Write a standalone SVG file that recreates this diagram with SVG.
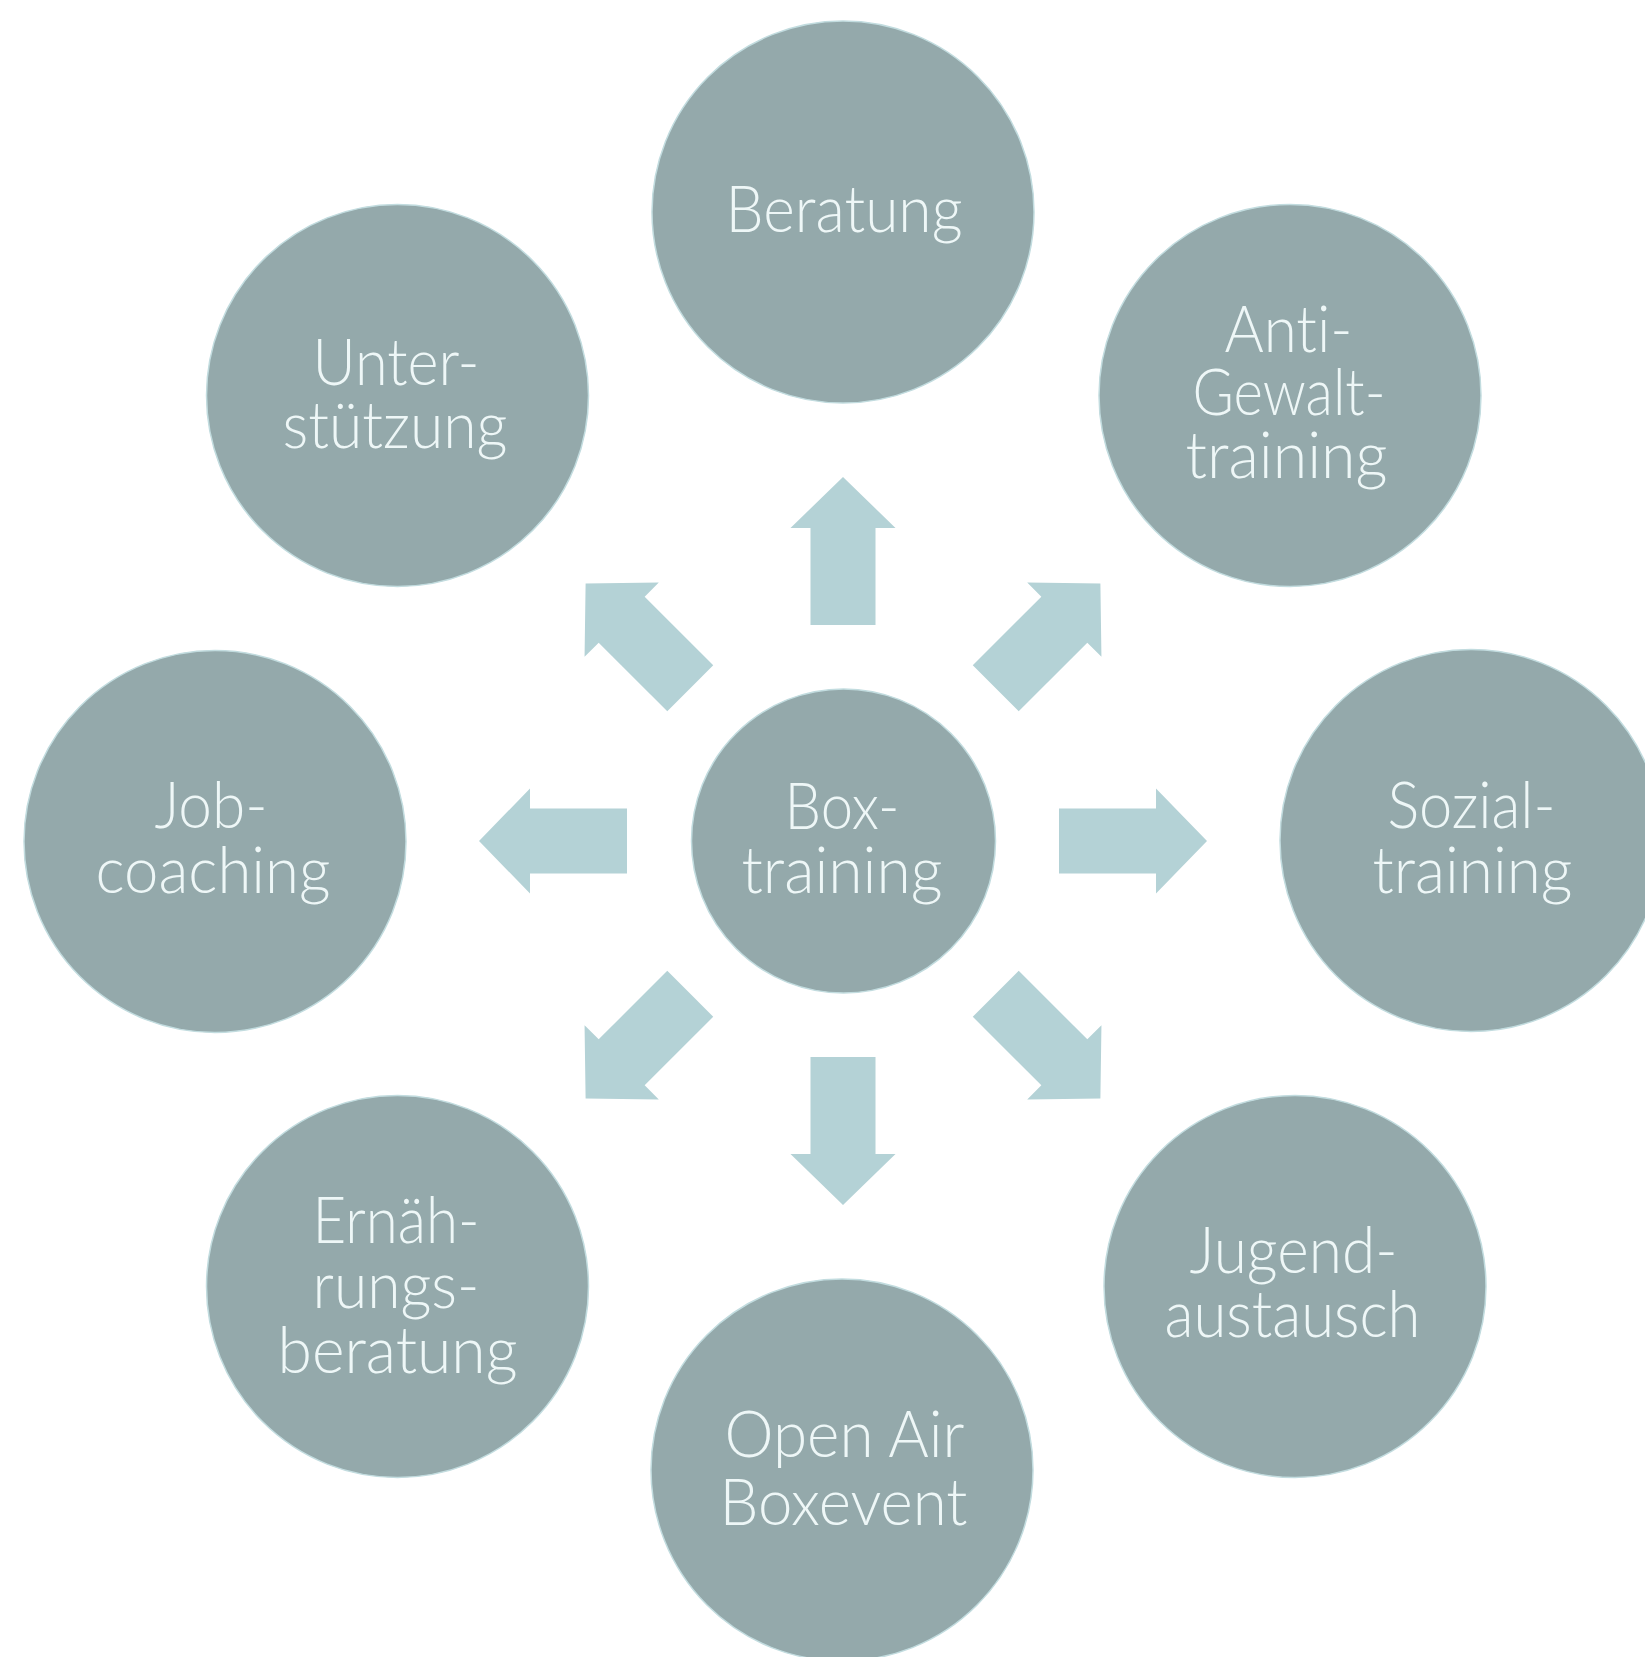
<svg xmlns="http://www.w3.org/2000/svg" xmlns:xlink="http://www.w3.org/1999/xlink" width="1645" height="1657" viewBox="0 0 1645 1657">
<style>
.node{fill:#94a9ab;stroke:#c2dcdf;stroke-width:1.5}
.lbl{font-family:Lato,Roboto,"Liberation Sans",sans-serif;font-weight:300;font-size:66px;fill:#eef7f7;text-anchor:middle;font-variant-ligatures:none;font-feature-settings:"liga" 0,"clig" 0}
.arrow{fill:#b4d2d6}
</style>
<defs>
<path id="arr" d="M0,-364 L52.5,-313 L32.5,-313 L32.5,-216 L-32.5,-216 L-32.5,-313 L-52.5,-313 Z"/>
</defs>
<rect width="1645" height="1657" fill="#ffffff"/>
<g id="connectors" class="arrow">
<use xlink:href="#arr" transform="translate(843 841) rotate(0)"/>
<use xlink:href="#arr" transform="translate(843 841) rotate(45)"/>
<use xlink:href="#arr" transform="translate(843 841) rotate(90)"/>
<use xlink:href="#arr" transform="translate(843 841) rotate(135)"/>
<use xlink:href="#arr" transform="translate(843 841) rotate(180)"/>
<use xlink:href="#arr" transform="translate(843 841) rotate(225)"/>
<use xlink:href="#arr" transform="translate(843 841) rotate(270)"/>
<use xlink:href="#arr" transform="translate(843 841) rotate(315)"/>
</g>
<g id="node-center">
<circle class="node" cx="843.5" cy="841" r="152"/>
<text class="lbl" x="842" y="829" textLength="115" lengthAdjust="spacingAndGlyphs">Box-</text>
<text class="lbl" x="842" y="893" textLength="201" lengthAdjust="spacingAndGlyphs">training</text>
</g>
<g id="node-beratung">
<circle class="node" cx="843" cy="212" r="191"/>
<text class="lbl" x="844" y="232" textLength="237" lengthAdjust="spacingAndGlyphs">Beratung</text>
</g>
<g id="node-unterstuetzung">
<circle class="node" cx="397.5" cy="395.5" r="191"/>
<text class="lbl" x="396" y="385" textLength="167" lengthAdjust="spacingAndGlyphs">Unter-</text>
<text class="lbl" x="395" y="448" textLength="225" lengthAdjust="spacingAndGlyphs">stützung</text>
</g>
<g id="node-antigewalt">
<circle class="node" cx="1290" cy="395.5" r="191"/>
<text class="lbl" x="1288.5" y="352" textLength="128" lengthAdjust="spacingAndGlyphs">Anti-</text>
<text class="lbl" x="1289" y="415" textLength="193" lengthAdjust="spacingAndGlyphs">Gewalt-</text>
<text class="lbl" x="1286.5" y="478" textLength="202" lengthAdjust="spacingAndGlyphs">training</text>
</g>
<g id="node-jobcoaching">
<circle class="node" cx="215" cy="841.5" r="191"/>
<text class="lbl" x="211" y="828" textLength="113" lengthAdjust="spacingAndGlyphs">Job-</text>
<text class="lbl" x="213" y="893" textLength="235" lengthAdjust="spacingAndGlyphs">coaching</text>
</g>
<g id="node-sozialtraining">
<circle class="node" cx="1471" cy="840.5" r="191"/>
<text class="lbl" x="1471.5" y="828" textLength="168" lengthAdjust="spacingAndGlyphs">Sozial-</text>
<text class="lbl" x="1472.5" y="893" textLength="200" lengthAdjust="spacingAndGlyphs">training</text>
</g>
<g id="node-ernaehrungsberatung">
<circle class="node" cx="397.5" cy="1286.5" r="191"/>
<text class="lbl" x="396" y="1243" textLength="167" lengthAdjust="spacingAndGlyphs">Ernäh-</text>
<text class="lbl" x="396" y="1308" textLength="167" lengthAdjust="spacingAndGlyphs">rungs-</text>
<text class="lbl" x="397.5" y="1373" textLength="240" lengthAdjust="spacingAndGlyphs">beratung</text>
</g>
<g id="node-jugendaustausch">
<circle class="node" cx="1295" cy="1286.5" r="191"/>
<text class="lbl" x="1293.5" y="1273" textLength="208" lengthAdjust="spacingAndGlyphs">Jugend-</text>
<text class="lbl" x="1292.5" y="1337" textLength="256" lengthAdjust="spacingAndGlyphs">austausch</text>
</g>
<g id="node-openair">
<circle class="node" cx="842" cy="1470" r="191"/>
<text class="lbl" x="844.5" y="1457" textLength="240" lengthAdjust="spacingAndGlyphs">Open Air</text>
<text class="lbl" x="843.5" y="1525" textLength="248" lengthAdjust="spacingAndGlyphs">Boxevent</text>
</g>
</svg>
